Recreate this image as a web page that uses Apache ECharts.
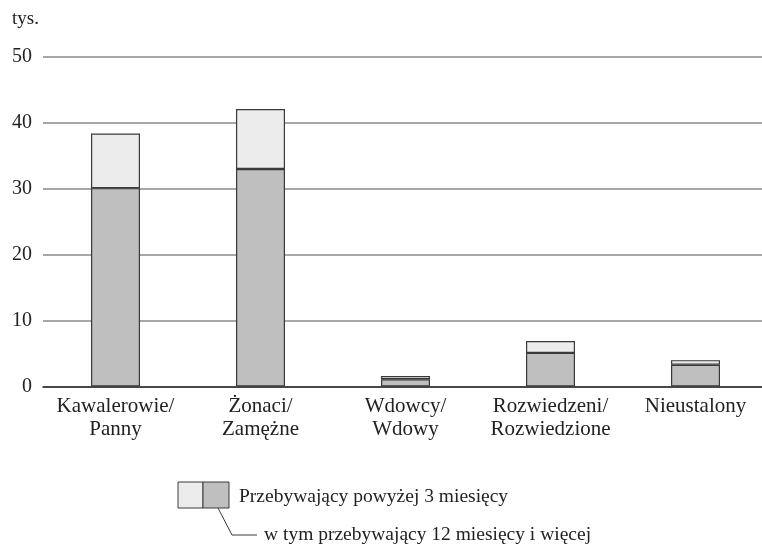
<!DOCTYPE html>
<html><head><meta charset="utf-8">
<script src="https://cdn.jsdelivr.net/npm/echarts@6/dist/echarts.min.js"></script>
<style>html,body{margin:0;padding:0;background:#fff}#c{width:762px;height:545px}</style>
</head><body><div id="c"></div>
<script>
var categories = ['Kawalerowie/\nPanny', 'Żonaci/\nZamężne', 'Wdowcy/\nWdowy', 'Rozwiedzeni/\nRozwiedzione', 'Nieustalony'];
var totalOver3m = [38.4, 42.1, 1.6, 6.9, 4.0];
var over12m = [30.1, 33.0, 1.1, 5.1, 3.3];
var yTicks = [0, 10, 20, 30, 40, 50];
var legendTotal = 'Przebywający powyżej 3 miesięcy';
var legendLong = 'w tym przebywający 12 miesięcy i więcej';
var unitLabel = 'tys.';

var rest = totalOver3m.map(function (t, i) { return +(t - over12m[i]).toFixed(2); });
var font = 'Liberation Serif';
var chart = echarts.init(document.getElementById('c'), null, {renderer: 'canvas'});
chart.setOption({
  animation: false,
  textStyle: {fontFamily: font},
  grid: {left: 43, width: 725, top: 57, bottom: 158.5, containLabel: false, outerBoundsMode: 'none'},
  xAxis: {
    type: 'category', data: categories,
    axisLine: {lineStyle: {color: '#2a2a2a', width: 1.5}},
    axisTick: {show: false},
    axisLabel: {color: '#222', fontFamily: font, fontSize: 21, lineHeight: 23, margin: 8, interval: 0}
  },
  yAxis: {
    type: 'value', min: yTicks[0], max: yTicks[yTicks.length - 1], interval: 10,
    axisLine: {show: false}, axisTick: {show: false},
    axisLabel: {color: '#222', fontFamily: font, fontSize: 20, margin: 11},
    splitLine: {lineStyle: {color: '#8a8a8a', width: 1.5}}
  },
  series: [
    {type: 'bar', stack: 's', data: over12m, barWidth: 49,
     itemStyle: {color: '#bfbfbf', borderColor: '#3a3a3a', borderWidth: 1.2}},
    {type: 'bar', stack: 's', data: rest, barWidth: 49,
     itemStyle: {color: '#ececec', borderColor: '#3a3a3a', borderWidth: 1.2}}
  ],
  graphic: [
    {type: 'text', x: 12, y: 19, style: {text: unitLabel, font: '19px "' + font + '"', fill: '#222', textVerticalAlign: 'middle'}},
    {type: 'rect', shape: {x: 178, y: 482, width: 25, height: 26}, style: {fill: '#ececec', stroke: '#3a3a3a', lineWidth: 1}},
    {type: 'rect', shape: {x: 203, y: 482, width: 26, height: 26}, style: {fill: '#bfbfbf', stroke: '#3a3a3a', lineWidth: 1}},
    {type: 'polyline', shape: {points: [[218, 508], [232, 535], [257, 535]]}, style: {stroke: '#3a3a3a', lineWidth: 1, fill: null}},
    {type: 'text', x: 239, y: 497, style: {text: legendTotal, font: '19.5px "' + font + '"', fill: '#222', textVerticalAlign: 'middle'}},
    {type: 'text', x: 264, y: 535, style: {text: legendLong, font: '19.5px "' + font + '"', fill: '#222', textVerticalAlign: 'middle'}}
  ]
});
</script></body></html>
